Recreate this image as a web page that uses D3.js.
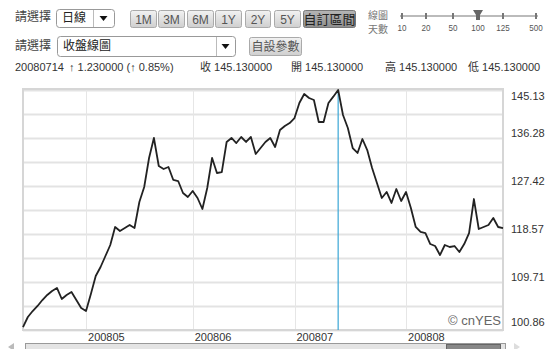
<!DOCTYPE html>
<html>
<head>
<meta charset="utf-8">
<script src="https://cdn.jsdelivr.net/npm/d3@7"></script>
<style>
    body { margin: 0; background: #fff; }
    svg { display: block; font-family: 'Liberation Sans', Arial, 'Noto Sans CJK TC', sans-serif; }
    .cjk { font-family: 'Noto Sans CJK TC', 'Liberation Sans', sans-serif; }
</style>
</head>
<body>
<svg id="chart"></svg>
<script>
// Daily close, 2008-04-14 .. 2008-08-29 (trading days).
const closes = [
    101.41, 103.26, 104.36, 105.29, 106.39, 107.32, 108.05, 108.61, 106.58, 107.32,
    107.87, 106.39, 104.92, 104.36, 107.50, 110.82, 112.48, 114.51, 116.54, 119.86,
    119.12, 119.67, 120.23, 119.67, 124.47, 127.24, 132.59, 136.28, 131.11, 130.56,
    130.93, 128.53, 128.34, 126.13, 125.39, 126.50, 125.21, 123.18, 127.05, 132.59,
    129.82, 130.00, 135.54, 136.28, 135.35, 136.46, 135.54, 136.46, 133.33, 134.43,
    135.54, 136.28, 134.62, 137.75, 138.49, 139.04, 139.96, 142.73, 144.39, 143.65,
    143.28, 139.23, 139.23, 142.73, 143.90, 145.13, 140.52, 138.12, 134.43, 133.51,
    136.09, 134.06, 130.74, 127.98, 125.21, 126.32, 124.29, 126.87, 124.66, 126.32,
    123.36, 119.86, 118.94, 118.75, 116.72, 116.35, 114.69, 116.54, 116.17, 116.35,
    115.25, 116.72, 118.75, 125.02, 119.49, 119.86, 120.23, 121.52, 119.86, 119.67,
];
const yTicks = [100.86, 109.71, 118.57, 127.42, 136.28, 145.13];
const monthLabels = ['200805', '200806', '200807', '200808'];
const cursorDate = '20080714';
const rangeButtons = ['1M', '3M', '6M', '1Y', '2Y', '5Y', '自訂區間'];
const dayOptions = ['10', '20', '50', '100', '125', '500'];
const infoTexts = ['20080714', '↑ 1.230000 (↑ 0.85%)', '收 145.130000', '開 145.130000', '高 145.130000', '低 145.130000'];

// Trading days (weekdays) for the x categories.
const fmt = d3.timeFormat('%Y%m%d');
const dates = d3.timeDays(new Date(2008, 3, 14), new Date(2008, 7, 30))
    .filter(d => d.getDay() !== 0 && d.getDay() !== 6)
    .map(fmt);

const W = 554, H = 349;
const plot = { left: 23, right: 503, top: 90, bottom: 330 };

const svg = d3.select('#chart').attr('width', W).attr('height', H);

// ---------- header controls ----------
const defs = svg.append('defs');
const g1 = defs.append('linearGradient').attr('id', 'btn').attr('x1', 0).attr('x2', 0).attr('y1', 0).attr('y2', 1);
g1.append('stop').attr('offset', '0%').attr('stop-color', '#f2f2f2');
g1.append('stop').attr('offset', '100%').attr('stop-color', '#cfcfcf');
const g2 = defs.append('linearGradient').attr('id', 'btnOn').attr('x1', 0).attr('x2', 0).attr('y1', 0).attr('y2', 1);
g2.append('stop').attr('offset', '0%').attr('stop-color', '#b5b5b5');
g2.append('stop').attr('offset', '100%').attr('stop-color', '#8e8e8e');

const header = svg.append('g').attr('fill', '#333');

header.append('text').attr('class', 'cjk').attr('x', 15).attr('y', 21).attr('font-size', 12).attr('fill', '#444').text('請選擇');
header.append('text').attr('class', 'cjk').attr('x', 15).attr('y', 50).attr('font-size', 12).attr('fill', '#444').text('請選擇');

function dropdown(x, y, w, h, div, label) {
    const g = header.append('g');
    g.append('rect').attr('x', x + 0.5).attr('y', y + 0.5).attr('width', w).attr('height', h)
        .attr('rx', 3).attr('fill', '#fff').attr('stroke', '#999');
    g.append('line').attr('x1', div + 0.5).attr('x2', div + 0.5).attr('y1', y + 1).attr('y2', y + h)
        .attr('stroke', '#bbb');
    const ax = (div + x + w) / 2, ay = y + h / 2;
    g.append('path').attr('d', `M${ax - 4},${ay - 2}L${ax + 4},${ay - 2}L${ax},${ay + 3}Z`).attr('fill', '#111');
    g.append('text').attr('class', 'cjk').attr('x', x + 6).attr('y', y + h / 2 + 4).attr('font-size', 12)
        .attr('fill', '#222').text(label);
}
dropdown(56, 9, 58, 18, 93, '日線');
dropdown(57, 36, 178, 20, 216, '收盤線圖');

const btnX = [130, 158, 187, 215, 245, 274, 303];
const btnW = [26, 26, 26, 26, 25, 26, 52];
rangeButtons.forEach((b, i) => {
    const on = i === rangeButtons.length - 1;
    header.append('rect').attr('x', btnX[i] + 0.5).attr('y', 10.5).attr('width', btnW[i]).attr('height', 17)
        .attr('rx', 2).attr('fill', on ? 'url(#btnOn)' : 'url(#btn)').attr('stroke', on ? '#777' : '#aaa');
    header.append('text').attr('class', on ? 'cjk' : null)
        .attr('x', btnX[i] + btnW[i] / 2 + 0.5).attr('y', 23.5).attr('text-anchor', 'middle')
        .attr('font-size', on ? 13 : 12).attr('fill', on ? '#222' : '#555').text(b);
});

header.append('rect').attr('x', 249.5).attr('y', 37.5).attr('width', 52).attr('height', 18)
    .attr('rx', 2).attr('fill', 'url(#btn)').attr('stroke', '#aaa');
header.append('text').attr('class', 'cjk').attr('x', 275.5).attr('y', 51).attr('text-anchor', 'middle')
    .attr('font-size', 12).attr('fill', '#555').text('自設參數');

// days slider label, two short lines
header.append('text').attr('class', 'cjk').attr('x', 368).attr('y', 18.5).attr('font-size', 10)
    .attr('fill', '#777').text('線圖');
header.append('text').attr('class', 'cjk').attr('x', 368).attr('y', 33).attr('font-size', 10)
    .attr('fill', '#777').text('天數');

const sliderPos = [402, 426, 453, 478, 503, 536];
header.append('line').attr('x1', 400).attr('x2', 538).attr('y1', 16).attr('y2', 16)
    .attr('stroke', '#bbb').attr('stroke-width', 2);
dayOptions.forEach((d, i) => {
    const sx = sliderPos[i];
    header.append('rect').attr('x', sx - 1).attr('y', 13).attr('width', 2).attr('height', 6).attr('fill', '#777');
    header.append('text').attr('x', sx).attr('y', 31).attr('text-anchor', 'middle').attr('font-size', 9.5)
        .attr('fill', '#555').attr('transform', `translate(${sx},0) scale(0.85,1) translate(${-sx},0)`).text(d);
});
const tx = sliderPos[dayOptions.indexOf('100')];
header.append('path').attr('d', `M${tx - 5},10L${tx + 5},10L${tx + 2},15L${tx + 2},20L${tx - 2},20L${tx - 2},15Z`)
    .attr('fill', '#666');

// info row
const infoX = [15, 69, 200, 291, 385, 468];
infoTexts.forEach((t, i) => {
    header.append('text').attr('x', infoX[i]).attr('y', 71).attr('font-size', 11).attr('fill', '#333').text(t);
});

// ---------- chart ----------
const x = d3.scalePoint().domain(dates).range([plot.left, plot.right]);
const y = d3.scaleLinear().domain(d3.extent(yTicks)).range([plot.bottom, plot.top]);

// horizontal grid (half steps between labels)
const [y0, y1] = y.domain();
const gridVals = d3.range(11).map(k => y0 + (k * (y1 - y0)) / 10);
svg.append('g').selectAll('line').data(gridVals).enter().append('line')
    .attr('x1', plot.left).attr('x2', plot.right)
    .attr('y1', d => Math.round(y(d)) + 0.5).attr('y2', d => Math.round(y(d)) + 0.5)
    .attr('stroke', '#e3e3e3').attr('stroke-width', 2);

// month grid + labels
const monthStarts = monthLabels.map(m => dates.find(d => d.startsWith(m)));
svg.append('g').selectAll('line').data(monthStarts).enter().append('line')
    .attr('x1', d => Math.round(x(d)) + 0.5).attr('x2', d => Math.round(x(d)) + 0.5)
    .attr('y1', plot.top).attr('y2', plot.bottom)
    .attr('stroke', '#e6e6e6');
svg.append('g').selectAll('text').data(monthLabels).enter().append('text')
    .attr('x', (m, i) => x(monthStarts[i]) + 2).attr('y', 341)
    .attr('font-size', 11).attr('fill', '#333').text(m => m);

// frame
svg.append('rect').attr('x', plot.left).attr('y', plot.top - 1)
    .attr('width', plot.right - plot.left).attr('height', plot.bottom - plot.top + 1)
    .attr('fill', 'none').attr('stroke', '#d6d6d6').attr('stroke-width', 2);

// y labels
svg.append('g').selectAll('text').data(yTicks).enter().append('text')
    .attr('x', 511)
    .attr('y', d => Math.min(Math.max(y(d) - 1, plot.top + 10), plot.bottom - 4))
    .attr('font-size', 11).attr('fill', '#333')
    .text(d => d.toFixed(2));

// cursor line
svg.append('line')
    .attr('x1', x(cursorDate)).attr('x2', x(cursorDate))
    .attr('y1', plot.top).attr('y2', plot.bottom)
    .attr('stroke', '#3aa6d6').attr('stroke-width', 1.2);

// price line
const line = d3.line().x((d, i) => x(dates[i])).y(d => y(d));
svg.append('path').datum(closes)
    .attr('d', line)
    .attr('fill', 'none').attr('stroke', '#222').attr('stroke-width', 1.8)
    .attr('stroke-linejoin', 'round');

svg.append('text').attr('x', 501).attr('y', 325).attr('text-anchor', 'end')
    .attr('font-size', 13).attr('fill', '#666').text('© cnYES');

// ---------- scroll bar ----------
svg.append('rect').attr('x', 25.5).attr('y', 343.5).attr('width', 480).attr('height', 10)
    .attr('fill', '#e4e4e4').attr('stroke', '#999');
svg.append('rect').attr('x', 446.5).attr('y', 344.5).attr('width', 54).attr('height', 9)
    .attr('fill', '#888').attr('stroke', '#666');
svg.append('path').attr('d', 'M8,347L14,343L14,351Z').attr('fill', '#bbb');
svg.append('path').attr('d', 'M520,347L514,343L514,351Z').attr('fill', '#ddd');
</script>
</body>
</html>
